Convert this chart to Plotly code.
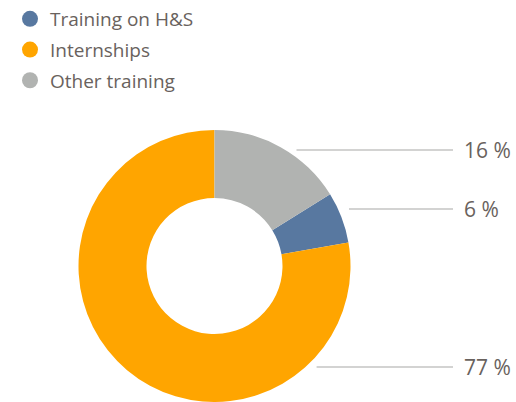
import math
import plotly.graph_objects as go

# data
labels = ["Training on H&S", "Internships", "Other training"]
values = [6, 77, 16]
colors = ["#5878a0", "#ffa500", "#b1b3b1"]

W, H = 516, 402
CX, CY, R = 214.5, 266, 136          # donut centre / radius in px (from top-left)
TEXT = "#69625d"
FONT = "Open Sans"

# label rows (px from top), per slice
label_y = [209, 367, 150]
LINE_END, LABEL_X = 453, 462

total = sum(values)
start_angle = values[-1] / total * 360   # "Other training" sits at 12 o'clock

fig = go.Figure()
fig.add_trace(go.Pie(
    labels=labels, values=values, hole=0.5, sort=False,
    direction="clockwise", rotation=start_angle,
    marker=dict(colors=colors, line=dict(width=0)),
    textinfo="none", hoverinfo="label+percent", showlegend=False,
    domain=dict(x=[(CX - R) / W, (CX + R) / W], y=[0, 2 * R / H]),
))

# circle legend entries
for i, (lab, col) in enumerate(zip(labels, colors)):
    fig.add_trace(go.Scatter(
        x=[None], y=[None], mode="markers", name=lab, legendgroup=f"g{i}",
        marker=dict(color=col, size=16, symbol="circle"),
    ))

shapes, annotations = [], []
for v, y in zip(values, label_y):
    dy = y - CY
    x0 = CX + math.sqrt(max(R * R - dy * dy, 0)) + 11
    shapes.append(dict(type="line", xref="paper", yref="paper",
                       x0=x0 / W, x1=LINE_END / W, y0=1 - y / H, y1=1 - y / H,
                       line=dict(color="#a8a8a5", width=1.2)))
    annotations.append(dict(xref="paper", yref="paper", x=LABEL_X / W, y=1 - y / H,
                            xanchor="left", yanchor="middle", showarrow=False,
                            text=f"{v} %",
                            font=dict(family=FONT, size=21, color=TEXT)))

fig.update_layout(
    width=W, height=H, margin=dict(l=0, r=0, t=0, b=0),
    paper_bgcolor="white", plot_bgcolor="white",
    xaxis=dict(visible=False), yaxis=dict(visible=False),
    legend=dict(x=10 / W, y=1.0, xanchor="left", yanchor="top",
                font=dict(family=FONT, size=19, color=TEXT),
                traceorder="grouped", tracegroupgap=3),
    shapes=shapes, annotations=annotations,
)

fig.write_html("out.html", config=dict(displayModeBar=False),
               post_script="document.body.style.margin='0';")
